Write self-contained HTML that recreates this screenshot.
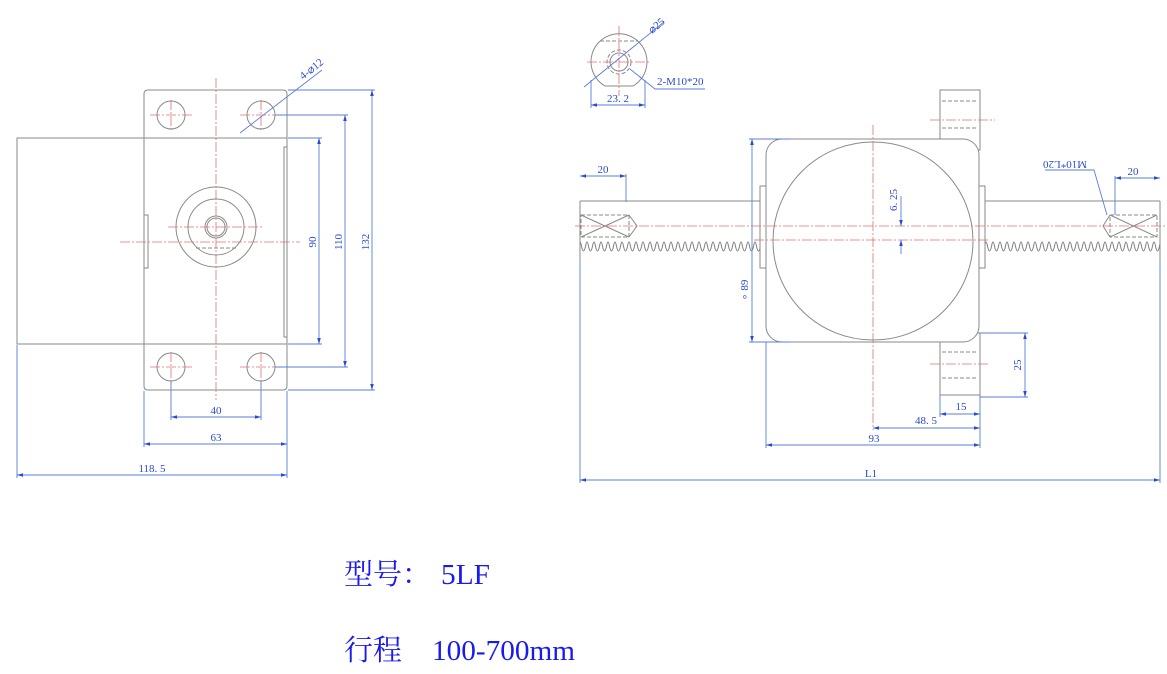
<!DOCTYPE html>
<html><head><meta charset="utf-8"><style>
html,body{margin:0;padding:0;background:#fff;width:1167px;height:674px;overflow:hidden}
svg{display:block}
.g{stroke:#8a8a8a;stroke-width:1;fill:none}
.d{stroke:#8a8a8a;stroke-width:1;fill:none;stroke-dasharray:4 2}
.r{stroke:#e07070;stroke-width:0.8;fill:none;stroke-dasharray:10 2 2 2}
.b{stroke:#5a7fd8;stroke-width:0.9;fill:none}
.t{fill:#2a4ad0;font-family:"Liberation Serif",serif;font-size:11px}
.big{fill:#1a1af0;font-family:"Liberation Serif","Noto Serif CJK SC",serif;font-size:29px}
</style></head><body>
<svg width="1167" height="674" viewBox="0 0 1167 674" xmlns="http://www.w3.org/2000/svg">
<defs>
<marker id="a" viewBox="0 0 10 6" refX="10" refY="3" markerWidth="8" markerHeight="4" orient="auto-start-reverse"><path d="M0,0L10,3L0,6z" fill="#2a4ad0"/></marker>
<pattern id="teeth" width="7" height="14" patternUnits="userSpaceOnUse" x="580" y="240"><path d="M0,2 C1.5,2 1.5,11 3.5,11 C5.5,11 5.5,2 7,2" stroke="#808080" fill="none" stroke-width="1"/></pattern>
</defs>

<!-- LEFT VIEW -->
<path class="g" d="M148,90 H283 Q287,90 287,94 V386 Q287,390 283,390 H148 Q144,390 144,386 V94 Q144,90 148,90 Z"/>
<line class="g" x1="144" y1="138" x2="287" y2="138"/>
<line class="g" x1="144" y1="344" x2="287" y2="344"/>
<rect class="g" x="17" y="138" width="127" height="206"/>
<path class="g" d="M287,147 H284 V337 H287"/>
<path class="g" d="M144,215 H148 V268 H144"/>
<g class="g"><circle cx="171" cy="115" r="14"/><circle cx="261" cy="115" r="14"/><circle cx="171" cy="367" r="14"/><circle cx="261" cy="367" r="14"/>
<circle cx="216" cy="227" r="40"/><circle cx="216" cy="227" r="28"/><circle cx="216" cy="227" r="11"/><circle cx="216" cy="227" r="9"/></g>
<line class="d" x1="196" y1="248" x2="236" y2="248"/>
<g class="r"><line x1="216" y1="78" x2="216" y2="400"/><line x1="120" y1="242" x2="300" y2="242"/><line x1="168" y1="227" x2="264" y2="227"/>
<line x1="150" y1="115" x2="192" y2="115"/><line x1="171" y1="100" x2="171" y2="130"/><line x1="240" y1="115" x2="282" y2="115"/><line x1="261" y1="100" x2="261" y2="130"/>
<line x1="150" y1="367" x2="192" y2="367"/><line x1="171" y1="352" x2="171" y2="382"/><line x1="240" y1="367" x2="282" y2="367"/><line x1="261" y1="352" x2="261" y2="382"/></g>
<g class="b">
<path d="M288,138 H322 M288,344 H322 M275,115 H348 M275,367 H348 M288,90 H375 M288,390 H375"/>
<line x1="319" y1="138" x2="319" y2="344" marker-start="url(#a)" marker-end="url(#a)"/>
<line x1="345" y1="115" x2="345" y2="367" marker-start="url(#a)" marker-end="url(#a)"/>
<line x1="372" y1="90" x2="372" y2="390" marker-start="url(#a)" marker-end="url(#a)"/>
<path d="M171,381 V420 M261,381 V420 M144,391 V447 M287,391 V478 M17,345 V478"/>
<line x1="171" y1="417" x2="261" y2="417" marker-start="url(#a)" marker-end="url(#a)"/>
<line x1="144" y1="444" x2="287" y2="444" marker-start="url(#a)" marker-end="url(#a)"/>
<line x1="17" y1="475" x2="287" y2="475" marker-start="url(#a)" marker-end="url(#a)"/>
<line x1="240" y1="133" x2="322" y2="70"/>
</g>
<text class="t" x="216" y="414" text-anchor="middle">40</text>
<text class="t" x="216" y="441" text-anchor="middle">63</text>
<text class="t" x="152" y="472" text-anchor="middle">118. 5</text>
<text class="t" transform="translate(316,242) rotate(-90)" text-anchor="middle">90</text>
<text class="t" transform="translate(342,242) rotate(-90)" text-anchor="middle">110</text>
<text class="t" transform="translate(369,242) rotate(-90)" text-anchor="middle">132</text>
<text class="t" transform="translate(303,80) rotate(-38)">4-⌀12</text>

<!-- SMALL END VIEW -->
<path class="g" d="M605,86 A28,28 0 1 1 633,86 Z"/>
<circle class="g" cx="619" cy="62" r="9"/>
<circle class="d" cx="619" cy="62" r="12"/>
<line class="d" x1="600" y1="41" x2="638" y2="41"/>
<g class="r"><line x1="619" y1="26" x2="619" y2="96"/><line x1="587" y1="62" x2="651" y2="62"/></g>
<g class="b">
<line x1="584" y1="87" x2="664" y2="22"/>
<path d="M630,69 L655,89 H705"/>
<path d="M591,80 V108 M645,80 V108"/>
<line x1="591" y1="105" x2="645" y2="105" marker-start="url(#a)" marker-end="url(#a)"/>
</g>
<text class="t" transform="translate(652,34) rotate(-40)">⌀25</text>
<text class="t" x="657" y="85">2-M10*20</text>
<text class="t" x="618" y="102" text-anchor="middle">23. 2</text>

<!-- MAIN RIGHT VIEW -->
<rect class="g" x="940" y="90" width="40" height="60"/>
<line class="d" x1="942" y1="101" x2="978" y2="101"/><line class="d" x1="942" y1="128" x2="978" y2="128"/>
<rect class="g" x="940" y="333" width="40" height="62"/>
<line class="d" x1="942" y1="352" x2="978" y2="352"/><line class="d" x1="942" y1="378" x2="978" y2="378"/>
<rect x="766" y="139" width="213" height="203" rx="16" fill="#fff" stroke="#8a8a8a"/>
<ellipse class="g" cx="873" cy="241" rx="100" ry="99"/>
<rect class="g" x="760" y="186" width="6" height="82"/>
<rect class="g" x="979" y="186" width="6" height="82"/>
<path class="g" d="M580,201 H760 M985,201 H1160 M580,201 V262 M1160,201 V262"/>
<rect x="580" y="240" width="180" height="14" fill="url(#teeth)"/>
<rect x="985" y="240" width="175" height="14" fill="url(#teeth)"/>
<g class="d"><rect x="581" y="215" width="48" height="22"/><rect x="1110" y="215" width="47" height="22"/></g>
<path class="g" d="M581,215 L629,237 M581,237 L629,215 M629,215 L637,226 L629,237 M1110,215 L1157,237 M1110,237 L1157,215 M1110,215 L1103,226 L1110,237"/>
<g class="r"><line x1="575" y1="226" x2="1165" y2="226"/><line x1="754" y1="240" x2="990" y2="240"/><line x1="873" y1="125" x2="873" y2="430"/><line x1="930" y1="120" x2="995" y2="120"/><line x1="930" y1="364" x2="990" y2="364"/></g>
<g class="b">
<path d="M626,174 V202 M1115,176 V215"/>
<line x1="580" y1="176" x2="626" y2="176" marker-start="url(#a)" marker-end="url(#a)"/>
<line x1="1115" y1="178" x2="1160" y2="178" marker-start="url(#a)" marker-end="url(#a)"/>
<path d="M749,139 H790 M749,342 H790"/>
<line x1="752" y1="139" x2="752" y2="342" marker-start="url(#a)" marker-end="url(#a)"/>
<line x1="901" y1="196" x2="901" y2="226" marker-end="url(#a)"/>
<line x1="901" y1="254" x2="901" y2="240" marker-end="url(#a)"/>
<path d="M980,333 H1028 M980,397 H1028"/>
<line x1="1025" y1="333" x2="1025" y2="397" marker-start="url(#a)" marker-end="url(#a)"/>
<path d="M940,395 V417 M980,395 V448 M766,342 V448 M580,262 V483 M1160,262 V483"/>
<line x1="940" y1="414" x2="980" y2="414" marker-start="url(#a)" marker-end="url(#a)"/>
<line x1="873" y1="428" x2="980" y2="428" marker-start="url(#a)" marker-end="url(#a)"/>
<line x1="766" y1="445" x2="980" y2="445" marker-start="url(#a)" marker-end="url(#a)"/>
<line x1="580" y1="480" x2="1160" y2="480" marker-start="url(#a)" marker-end="url(#a)"/>
<path d="M1045,170 H1094 L1107,215"/>
</g>
<text class="t" x="603" y="173" text-anchor="middle">20</text>
<text class="t" x="1133" y="175" text-anchor="middle">20</text>
<text class="t" transform="translate(748,290) rotate(-90)" text-anchor="middle">∘ 89</text>
<text class="t" transform="translate(897,200) rotate(-90)" text-anchor="middle">6. 25</text>
<text class="t" transform="translate(1021,365) rotate(-90)" text-anchor="middle">25</text>
<text class="t" x="961" y="410" text-anchor="middle">15</text>
<text class="t" x="926" y="424" text-anchor="middle">48. 5</text>
<text class="t" x="874" y="442" text-anchor="middle">93</text>
<text class="t" x="871" y="477" text-anchor="middle">L1</text>
<text class="t" transform="translate(1065,161) rotate(180)" text-anchor="middle">M10*L20</text>

<text class="big" x="344" y="584">型号：</text>
<text class="big" x="441" y="584" textLength="49" lengthAdjust="spacingAndGlyphs">5LF</text>
<text class="big" x="344" y="660">行程</text>
<text class="big" x="432" y="660" textLength="143" lengthAdjust="spacingAndGlyphs">100-700mm</text>
</svg>
</body></html>
